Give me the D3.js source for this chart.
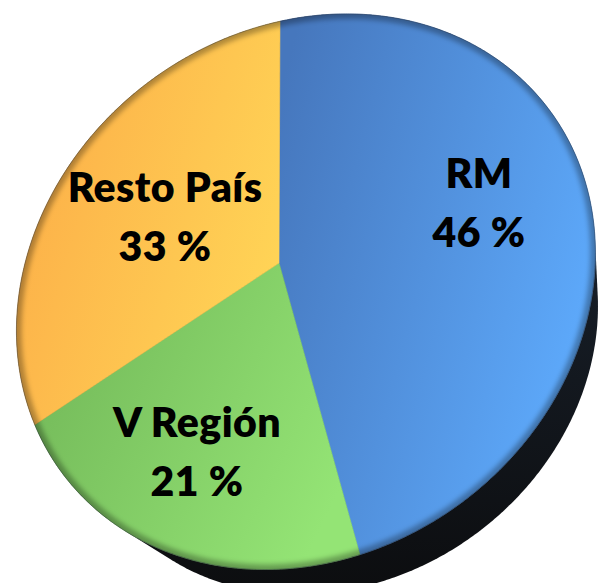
<!DOCTYPE html>
<html>
<head>
<meta charset="utf-8">
<script src="https://cdn.jsdelivr.net/npm/d3@7"></script>
<style>
  html, body { margin: 0; padding: 0; background: #fff; }
  svg { display: block; }
  text { font-family: Lato, 'Open Sans', sans-serif; font-weight: 800; fill: #000; }
</style>
</head>
<body>
<svg width="599" height="583"></svg>
<script>
// data
const regions = ['RM', 'V Región', 'Resto País'];
const shares = [46, 21, 33];
const shareLabels = ['46 %', '21 %', '33 %'];

// look
const darkColors = ['#4677bd', '#72b758', '#fcac47'];
const lightColors = ['#5eabfd', '#94e475', '#ffd456'];
const labelPos = [[479, 188], [197, 437], [165, 202]];
const lineGap = 59;

// traced rim of the tilted disc, its centre and where the first slice starts
const rimTrace = [[280, 20], [300, 15], [367, 13], [433, 27], [500, 67], [567, 133], [576, 150],
  [586, 183], [592, 233], [593, 260], [591, 300], [582, 333], [576, 350], [550, 400], [500, 483],
  [440, 523], [413, 533], [360, 550], [313, 560], [247, 565], [180, 557], [120, 530], [33, 430],
  [15, 340], [17, 300], [27, 260], [43, 220], [67, 170], [100, 127], [160, 77]];
const hubScreen = [279, 263];
const startScreen = [280, 20];

const svg = d3.select('svg');
const defs = svg.append('defs');

/* ==================================
Pie layout (clockwise from 12 o'clock)
================================== */
const pie = d3.pie().sort(null).value((d) => d);
const arcs = pie(shares);
const onDisc = (a) => [Math.sin(a), -Math.cos(a)];

/* ==================================
Ellipse through the traced rim (least squares conic)
================================== */
function solveLinear(A, b) {
  A = A.map((r) => r.slice());
  b = b.slice();
  const n = b.length;
  for (let c = 0; c < n; c++) {
    let p = c;
    for (let r = c + 1; r < n; r++) if (Math.abs(A[r][c]) > Math.abs(A[p][c])) p = r;
    [A[c], A[p]] = [A[p], A[c]];
    [b[c], b[p]] = [b[p], b[c]];
    for (let r = 0; r < n; r++) {
      if (r === c) continue;
      const f = A[r][c] / A[c][c];
      for (let k = c; k < n; k++) A[r][k] -= f * A[c][k];
      b[r] -= f * b[c];
    }
  }
  return b.map((v, i) => v / A[i][i]);
}

function fitEllipse(pts) {
  const S = 300;
  const rows = pts.map(([x, y]) => {
    const u = (x - 300) / S;
    const v = (y - 290) / S;
    return [u * u, u * v, v * v, u, v];
  });
  const N = d3.range(5).map((i) => d3.range(5).map((j) => d3.sum(rows, (r) => r[i] * r[j])));
  const rhs = d3.range(5).map((i) => d3.sum(rows, (r) => r[i]));
  const [a, b, c, d, e] = solveLinear(N, rhs);
  const det = a * c - b * b / 4;
  const u0 = (-c * d / 2 + b * e / 4) / det;
  const v0 = (b * d / 4 - a * e / 2) / det;
  const F0 = a * u0 * u0 + b * u0 * v0 + c * v0 * v0 + d * u0 + e * v0 - 1;
  const th = 0.5 * Math.atan2(b, a - c);
  const cs = Math.cos(th);
  const sn = Math.sin(th);
  const l1 = a * cs * cs + b * sn * cs + c * sn * sn;
  const l2 = a * sn * sn - b * sn * cs + c * cs * cs;
  return {
    cx: 300 + S * u0, cy: 290 + S * v0,
    r1: S * Math.sqrt(-F0 / l1), r2: S * Math.sqrt(-F0 / l2), cs, sn
  };
}

const ell = fitEllipse(rimTrace);
const toUnit = ([x, y]) => {
  const dx = x - ell.cx;
  const dy = y - ell.cy;
  return [(dx * ell.cs + dy * ell.sn) / ell.r1, (-dx * ell.sn + dy * ell.cs) / ell.r2];
};
const fromUnit = ([u, v]) => [
  ell.cx + u * ell.r1 * ell.cs - v * ell.r2 * ell.sn,
  ell.cy + u * ell.r1 * ell.sn + v * ell.r2 * ell.cs
];
const rot = ([x, y], a) => [x * Math.cos(a) - y * Math.sin(a), x * Math.sin(a) + y * Math.cos(a)];

/* ==================================
Perspective: a projective map of the unit circle onto itself
that carries the disc centre to the traced hub.
================================== */
const hubUnit = toUnit(hubScreen);
const beta = Math.hypot(hubUnit[0], hubUnit[1]);
const phi = Math.atan2(hubUnit[1], hubUnit[0]);
const gamma = 1 / Math.sqrt(1 - beta * beta);

function toDisc(p) {
  const [x, y] = rot(toUnit(p), -phi);
  const w = 1 - beta * x;
  return [(x - beta) / w, y / (gamma * w)];
}
function fromDisc([X, Y]) {
  const w = 1 + beta * X;
  return fromUnit(rot([(X + beta) / w, Y / (gamma * w)], phi));
}

const startDisc = toDisc(startScreen);
const spin = Math.atan2(startDisc[1], startDisc[0]) + Math.PI / 2;
const project = (q) => fromDisc(rot(q, spin));

function ringOf(a0, a1, step = Math.PI / 360) {
  const pts = [];
  const n = Math.max(2, Math.ceil((a1 - a0) / step));
  for (let i = 0; i <= n; i++) pts.push(project(onDisc(a0 + (a1 - a0) * i / n)));
  return pts;
}

const line = d3.line().curve(d3.curveLinearClosed);
const outline = ringOf(0, 2 * Math.PI);

/* ==================================
Thickness of the disc: back face shrunk toward a vanishing point
================================== */
const vanish = [624, 843];
const depthScale = 0.909;
const backFace = outline.map(([x, y]) => [
  vanish[0] + depthScale * (x - vanish[0]),
  vanish[1] + depthScale * (y - vanish[1])
]);
const hull = d3.polygonHull(outline.concat(backFace));

const sideGrad = defs.append('linearGradient')
  .attr('id', 'side').attr('x1', 0).attr('y1', 0).attr('x2', 0).attr('y2', 1);
sideGrad.append('stop').attr('offset', '0%').attr('stop-color', '#1f2b3a');
sideGrad.append('stop').attr('offset', '100%').attr('stop-color', '#0c0d0f');

svg.append('path')
  .attr('d', line(hull))
  .attr('fill', 'url(#side)');

/* ==================================
Slices
================================== */
arcs.forEach((d, i) => {
  const g = defs.append('linearGradient')
    .attr('id', `slice-${i}`)
    .attr('x1', 0).attr('y1', 0.15).attr('x2', 1).attr('y2', 0.6);
  g.append('stop').attr('offset', '0%').attr('stop-color', darkColors[i]);
  g.append('stop').attr('offset', '100%').attr('stop-color', lightColors[i]);
});

svg.append('g')
  .selectAll('path')
  .data(arcs)
  .join('path')
  .attr('d', (d) => line([project([0, 0])].concat(ringOf(d.startAngle, d.endAngle))))
  .attr('fill', (d, i) => `url(#slice-${i})`)
  .attr('stroke', (d, i) => `url(#slice-${i})`)
  .attr('stroke-width', 0.6);

/* ==================================
Soft bevel along the rim
================================== */
defs.append('clipPath').attr('id', 'face')
  .append('path').attr('d', line(outline));
const blur = defs.append('filter').attr('id', 'soft')
  .attr('x', '-10%').attr('y', '-10%').attr('width', '120%').attr('height', '120%');
blur.append('feGaussianBlur').attr('stdDeviation', 2.5);

svg.append('path')
  .attr('d', line(outline))
  .attr('clip-path', 'url(#face)')
  .attr('fill', 'none')
  .attr('stroke', '#000')
  .attr('stroke-opacity', 0.3)
  .attr('stroke-width', 10)
  .attr('filter', 'url(#soft)');

svg.append('path')
  .attr('d', line(outline))
  .attr('fill', 'none')
  .attr('stroke', '#2a3340')
  .attr('stroke-opacity', 0.5)
  .attr('stroke-width', 0.8);

/* ==================================
Labels
================================== */
const labels = svg.append('g')
  .selectAll('text')
  .data(arcs)
  .join('text')
  .attr('text-anchor', 'middle')
  .attr('font-size', 41)
  .attr('letter-spacing', 0.4)
  .attr('x', (d, i) => labelPos[i][0])
  .attr('y', (d, i) => labelPos[i][1]);

labels.append('tspan')
  .attr('x', (d, i) => labelPos[i][0])
  .text((d, i) => regions[i]);
labels.append('tspan')
  .attr('x', (d, i) => labelPos[i][0])
  .attr('dy', lineGap)
  .text((d, i) => shareLabels[i]);
</script>
</body>
</html>
